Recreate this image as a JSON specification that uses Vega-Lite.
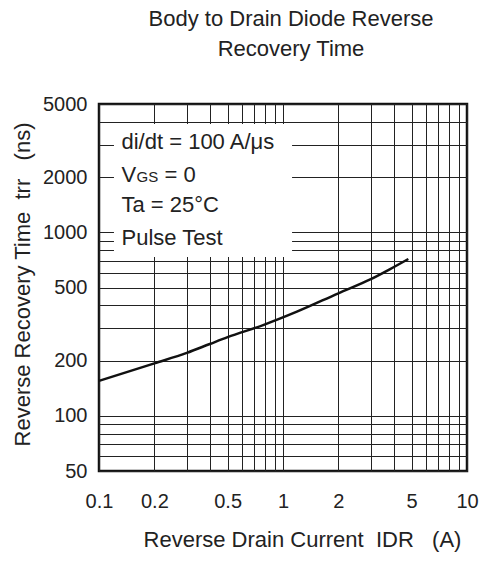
{
  "$schema": "https://vega.github.io/schema/vega-lite/v6.json",
  "autosize": "none",
  "width": 368,
  "height": 367,
  "padding": {"left": 99, "top": 104, "right": 12, "bottom": 91},
  "background": "white",
  "title": {
    "text": ["Body to Drain Diode Reverse", "Recovery Time"],
    "font": "Liberation Sans",
    "fontSize": 22,
    "fontWeight": "normal",
    "color": "#222",
    "anchor": "middle",
    "dx": 8,
    "lineHeight": 30,
    "baseline": "alphabetic",
    "offset": 16
  },
  "config": {
    "font": "Liberation Sans",
    "view": {"stroke": "#111", "strokeWidth": 2.5},
    "axis": {
      "labelFont": "Liberation Sans",
      "titleFont": "Liberation Sans",
      "labelColor": "#222",
      "titleColor": "#222",
      "labelFontSize": 20,
      "titleFontSize": 22,
      "titleFontWeight": "normal",
      "domain": false,
      "ticks": false,
      "grid": true,
      "gridColor": "#222",
      "gridWidth": 1,
      "gridOpacity": 1
    }
  },
  "datasets": {
    "curve": [
      {"current": 0.1, "trr": 155},
      {"current": 0.2, "trr": 193},
      {"current": 0.3, "trr": 220},
      {"current": 0.4, "trr": 246},
      {"current": 0.5, "trr": 268},
      {"current": 0.78, "trr": 312},
      {"current": 1.19, "trr": 369},
      {"current": 2.0, "trr": 465},
      {"current": 3.0, "trr": 555},
      {"current": 3.8, "trr": 628},
      {"current": 4.8, "trr": 715}
    ],
    "box": [
      {"x": 0.1206, "x2": 1.12, "y": 733, "y2": 3890}
    ],
    "notes": [
      {"x": 0.1325, "y": 2844, "part": "main", "t": "di/dt = 100 A/μs"},
      {"x": 0.1325, "y": 1880, "part": "v", "t": "V"},
      {"x": 0.1325, "y": 1880, "part": "sub", "t": "GS"},
      {"x": 0.1325, "y": 1880, "part": "eq", "t": "= 0"},
      {"x": 0.1325, "y": 1289, "part": "main", "t": "Ta = 25°C"},
      {"x": 0.1325, "y": 852, "part": "main", "t": "Pulse Test"}
    ]
  },
  "layer": [
    {
      "data": {"name": "box"},
      "mark": {"type": "rect", "fill": "white", "stroke": null},
      "encoding": {
        "x": {
          "field": "x", "type": "quantitative",
          "scale": {"type": "log", "domain": [0.1, 10], "nice": false},
          "axis": {
            "values": [0.1, 0.2, 0.3, 0.4, 0.5, 0.6, 0.7, 0.8, 0.9, 1, 2, 3, 4, 5, 6, 7, 8, 9, 10],
            "format": "~g",
            "labelExpr": "indexof([0.1, 0.2, 0.5, 1, 2, 5, 10], datum.value) >= 0 ? datum.label : ''",
            "labelPadding": 20,
            "labelFlush": false,
            "labelOverlap": false,
            "title": "Reverse Drain Current\u00a0\u00a0IDR\u00a0\u00a0\u00a0(A)",
            "titleX": 203,
            "titleY": 68,
            "titleBaseline": "middle",
            "titleAnchor": null
          }
        },
        "x2": {"field": "x2"},
        "y": {
          "field": "y", "type": "quantitative",
          "scale": {"type": "log", "domain": [50, 5000], "nice": false},
          "axis": {
            "values": [50, 60, 70, 80, 90, 100, 200, 300, 400, 500, 600, 700, 800, 900, 1000, 2000, 3000, 4000, 5000],
            "format": "~g",
            "labelExpr": "indexof([50, 100, 200, 500, 1000, 2000, 5000], datum.value) >= 0 ? datum.label : ''",
            "labelPadding": 12,
            "labelFlush": false,
            "labelOverlap": false,
            "title": "Reverse Recovery Time\u00a0\u00a0trr\u00a0\u00a0\u00a0(ns)",
            "titleX": -77,
            "titleY": 180,
            "titleAngle": -90,
            "titleBaseline": "middle",
            "titleAnchor": null
          }
        },
        "y2": {"field": "y2"}
      }
    },
    {
      "data": {"name": "notes"},
      "transform": [{"filter": "datum.part === 'main' || datum.part === 'v'"}],
      "mark": {"type": "text", "align": "left", "baseline": "alphabetic", "fontSize": 22, "color": "#222", "font": "Liberation Sans"},
      "encoding": {
        "x": {"field": "x", "type": "quantitative"},
        "y": {"field": "y", "type": "quantitative"},
        "text": {"field": "t"}
      }
    },
    {
      "data": {"name": "notes"},
      "transform": [{"filter": "datum.part === 'sub'"}],
      "mark": {"type": "text", "align": "left", "baseline": "alphabetic", "fontSize": 15, "dx": 15, "color": "#222", "font": "Liberation Sans"},
      "encoding": {
        "x": {"field": "x", "type": "quantitative"},
        "y": {"field": "y", "type": "quantitative"},
        "text": {"field": "t"}
      }
    },
    {
      "data": {"name": "notes"},
      "transform": [{"filter": "datum.part === 'eq'"}],
      "mark": {"type": "text", "align": "left", "baseline": "alphabetic", "fontSize": 22, "dx": 43, "color": "#222", "font": "Liberation Sans"},
      "encoding": {
        "x": {"field": "x", "type": "quantitative"},
        "y": {"field": "y", "type": "quantitative"},
        "text": {"field": "t"}
      }
    },
    {
      "data": {"name": "curve"},
      "mark": {"type": "line", "color": "#111", "strokeWidth": 2.5, "interpolate": "monotone"},
      "encoding": {
        "x": {"field": "current", "type": "quantitative"},
        "y": {"field": "trr", "type": "quantitative"}
      }
    }
  ]
}
